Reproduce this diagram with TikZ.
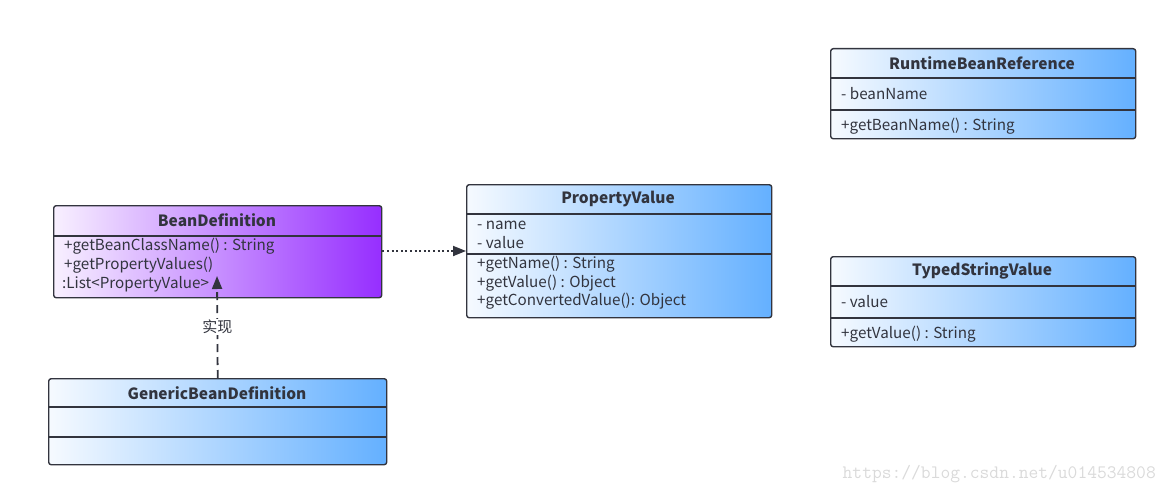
\documentclass[tikz,border=0pt]{standalone}
\usepackage{fontspec}
\setmainfont{Noto Sans CJK SC}
\usetikzlibrary{arrows.meta}

\begin{document}
\begin{tikzpicture}[x=1pt,y=-1pt,>=Latex,line cap=round,line join=round]

% Colors
\definecolor{linedark}{RGB}{50,52,62}
\definecolor{beanpurple}{RGB}{150,46,255}
\definecolor{beanpale}{RGB}{248,240,255}
\definecolor{classblue}{RGB}{100,176,255}
\definecolor{classpale}{RGB}{246,250,255}
\definecolor{markgray}{RGB}{218,218,218}

% Styles
\tikzset{
  classbox/.style={draw=linedark,line width=1.4pt,rounded corners=2.5pt,anchor=north west,
    inner sep=0pt,left color=classpale,right color=classblue},
  divider/.style={draw=linedark,line width=1.4pt,line cap=butt},
  classname/.style={font=\fontsize{15.5}{17}\selectfont\bfseries,text=linedark,inner sep=0pt},
  member/.style={font=\fontsize{15.2}{17}\selectfont,text=linedark,anchor=west,inner sep=0pt},
  tiparrow/.style={draw=linedark,line width=1.8pt,line cap=butt,
    -{Triangle[length=13pt,width=10pt]}}
}

\useasboundingbox (0,0) rectangle (1167,495);

% BeanDefinition
\node[classbox,minimum width=328pt,minimum height=92pt,left color=beanpale,right color=beanpurple] (bean) at (53,205) {};
\draw[divider] (bean.west |- 0,236) -- (bean.east |- 0,236);
\node[classname] (beanTitle) at (217,220) {BeanDefinition};
\node[member] (beanM1) at (64,246) {+getBeanClassName() : String};
\node[member] (beanM2) at (64,265) {+getPropertyValues()};
\node[member] (beanM3) at (62,284) {:List<PropertyValue>};

% GenericBeanDefinition
\node[classbox,minimum width=338pt,minimum height=86pt] (generic) at (48,378) {};
\draw[divider] (generic.west |- 0,407) -- (generic.east |- 0,407);
\draw[divider] (generic.west |- 0,437) -- (generic.east |- 0,437);
\node[classname] (genericTitle) at (217,393) {GenericBeanDefinition};

% PropertyValue
\node[classbox,minimum width=305pt,minimum height=133pt] (prop) at (466,184) {};
\draw[divider] (prop.west |- 0,214) -- (prop.east |- 0,214);
\draw[divider] (prop.west |- 0,254) -- (prop.east |- 0,254);
\node[classname] (propTitle) at (618,199) {PropertyValue};
\node[member] (propA1) at (477,225) {- name};
\node[member] (propA2) at (477,243) {- value};
\node[member] (propM1) at (477,264) {+getName() : String};
\node[member] (propM2) at (477,283) {+getValue() : Object};
\node[member] (propM3) at (477,301) {+getConvertedValue(): Object};

% RuntimeBeanReference
\node[classbox,minimum width=305pt,minimum height=90pt] (runtime) at (830,48) {};
\draw[divider] (runtime.west |- 0,78) -- (runtime.east |- 0,78);
\draw[divider] (runtime.west |- 0,110) -- (runtime.east |- 0,110);
\node[classname] (runtimeTitle) at (982,63) {RuntimeBeanReference};
\node[member] (runtimeA1) at (841,94) {- beanName};
\node[member] (runtimeM1) at (841,126) {+getBeanName() : String};

% TypedStringValue
\node[classbox,minimum width=305pt,minimum height=90pt] (typed) at (830,256) {};
\draw[divider] (typed.west |- 0,286) -- (typed.east |- 0,286);
\draw[divider] (typed.west |- 0,318) -- (typed.east |- 0,318);
\node[classname] (typedTitle) at (982,271) {TypedStringValue};
\node[member] (typedA1) at (841,302) {- value};
\node[member] (typedM1) at (841,334) {+getValue() : String};

% Dependency BeanDefinition -> PropertyValue
\draw[tiparrow,dash pattern=on 2pt off 2.6pt] (bean.east |- 0,251) -- (prop.west |- 0,251);

% Realization GenericBeanDefinition -> BeanDefinition
\coordinate (implTip) at (217,276);
\draw[tiparrow,dash pattern=on 8pt off 5pt] (generic.north) -- (implTip)
  node[pos=0.5,fill=white,inner sep=1.5pt,font=\fontsize{15}{17}\selectfont,text=linedark] (implLabel) {实现};

% Watermark
\node[font=\ttfamily\fontsize{19}{21}\selectfont,text=markgray,anchor=east,inner sep=0pt] (mark) at (1156,474) {https://blog.csdn.net/u014534808};

\end{tikzpicture}
\end{document}
